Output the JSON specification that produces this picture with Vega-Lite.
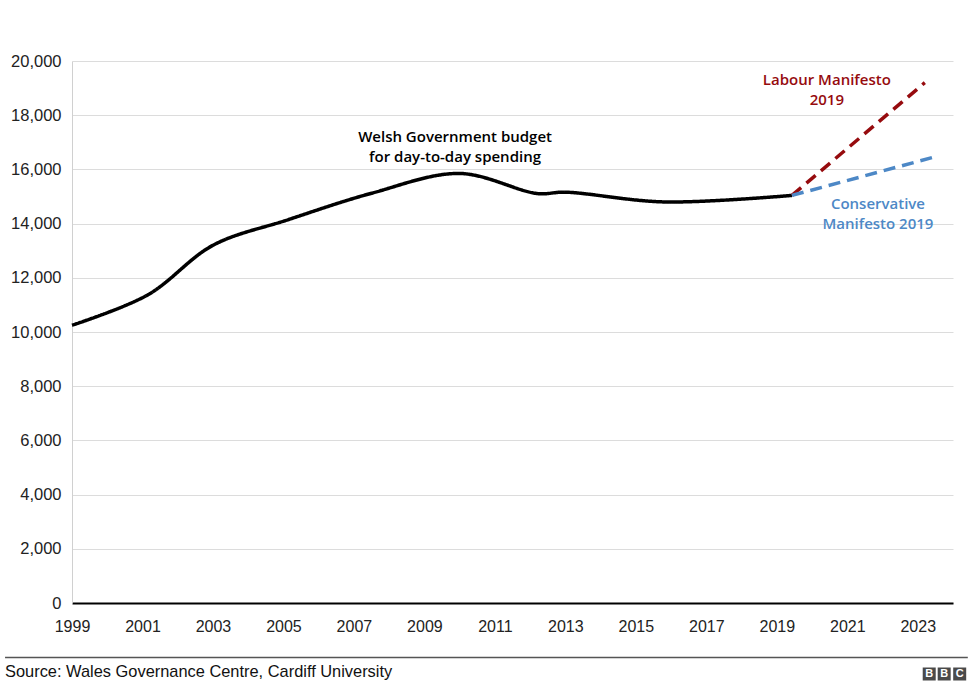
{
  "$schema": "https://vega.github.io/schema/vega-lite/v6.json",
  "width": 881,
  "height": 542,
  "autosize": "none",
  "padding": {"left": 72, "top": 61, "right": 23, "bottom": 97},
  "background": "white",
  "config": {"view": {"stroke": null}},
  "datasets": {
    "lines": [
      {"series": "budget", "year": 1999, "value": 10250},
      {"series": "budget", "year": 2001.15, "value": 11370},
      {"series": "budget", "year": 2003, "value": 13200},
      {"series": "budget", "year": 2005.1, "value": 14130},
      {"series": "budget", "year": 2007.5, "value": 15120},
      {"series": "budget", "year": 2010, "value": 15850},
      {"series": "budget", "year": 2012.2, "value": 15110},
      {"series": "budget", "year": 2013, "value": 15160},
      {"series": "budget", "year": 2015.8, "value": 14800},
      {"series": "budget", "year": 2019.43, "value": 15040},
      {"series": "labour", "year": 2019.43, "value": 15040},
      {"series": "labour", "year": 2023.2, "value": 19200},
      {"series": "conservative", "year": 2019.43, "value": 15040},
      {"series": "conservative", "year": 2023.45, "value": 16450}
    ],
    "labels": [
      {"label": ["Welsh Government budget", "for day-to-day spending"], "year": 2009.87, "value": 17196, "series": "budget"},
      {"label": ["Labour Manifesto", "2019"], "year": 2020.42, "value": 19307, "series": "labour"},
      {"label": ["Conservative", "Manifesto 2019"], "year": 2021.87, "value": 14730, "series": "conservative"}
    ],
    "bbc": [
      {"letter": "B", "pos": 2023.325},
      {"letter": "B", "pos": 2023.75},
      {"letter": "C", "pos": 2024.19}
    ]
  },
  "layer": [
    {
      "data": {"name": "lines"},
      "mark": {"type": "line", "interpolate": "catmull-rom", "strokeWidth": 3.5, "clip": false},
      "encoding": {
        "x": {
          "field": "year", "type": "quantitative",
          "scale": {"domain": [1999, 2024], "nice": false, "zero": false},
          "axis": {
            "values": [1999, 2001, 2003, 2005, 2007, 2009, 2011, 2013, 2015, 2017, 2019, 2021, 2023],
            "format": "d", "title": null, "grid": false, "ticks": false,
            "domainColor": "#000000", "domainWidth": 2,
            "labelFont": "Liberation Sans", "labelFontSize": 16, "labelColor": "#222222",
            "labelPadding": 15, "labelFlush": false
          }
        },
        "y": {
          "field": "value", "type": "quantitative",
          "scale": {"domain": [0, 20000], "nice": false},
          "axis": {
            "values": [0, 2000, 4000, 6000, 8000, 10000, 12000, 14000, 16000, 18000, 20000],
            "format": ",d", "title": null, "ticks": false,
            "gridColor": "#dcdcdc", "gridWidth": 1,
            "domainColor": "#d0d0d0", "domainWidth": 1,
            "labelFont": "Liberation Sans", "labelFontSize": 16.5, "labelColor": "#222222",
            "labelPadding": 11
          }
        },
        "color": {
          "field": "series", "type": "nominal", "legend": null,
          "scale": {"domain": ["budget", "labour", "conservative"], "range": ["#000000", "#960b0e", "#4d88c6"]}
        },
        "strokeDash": {
          "field": "series", "type": "nominal", "legend": null,
          "scale": {"domain": ["budget", "labour", "conservative"], "range": [[1, 0], [12, 7], [12, 7]]}
        }
      }
    },
    {
      "data": {"name": "labels"},
      "mark": {"type": "text", "font": "Open Sans", "fontSize": 15, "fontWeight": 600, "lineHeight": 20, "align": "center", "baseline": "middle", "clip": false},
      "encoding": {
        "x": {"field": "year", "type": "quantitative"},
        "y": {"field": "value", "type": "quantitative"},
        "text": {"field": "label"},
        "color": {"field": "series", "type": "nominal", "legend": null}
      }
    },
    {
      "data": {"values": [{}]},
      "mark": {"type": "rule", "color": "#555555", "strokeWidth": 1.5, "clip": false},
      "encoding": {
        "x": {"datum": 1997.1},
        "x2": {"datum": 2024.42},
        "y": {"datum": -2011}
      }
    },
    {
      "data": {"values": [{"t": "Source: Wales Governance Centre, Cardiff University"}]},
      "mark": {"type": "text", "font": "Liberation Sans", "fontSize": 16.4, "color": "#111111", "align": "left", "baseline": "alphabetic", "clip": false},
      "encoding": {
        "x": {"datum": 1997.1},
        "y": {"datum": -2730},
        "text": {"field": "t"}
      }
    },
    {
      "data": {"name": "bbc"},
      "mark": {"type": "square", "filled": true, "color": "#4a4a4a", "size": 169, "opacity": 1, "clip": false},
      "encoding": {
        "x": {"field": "pos", "type": "quantitative"},
        "y": {"datum": -2620}
      }
    },
    {
      "data": {"name": "bbc"},
      "mark": {"type": "text", "font": "Liberation Sans", "fontSize": 11, "fontWeight": "bold", "color": "#ffffff", "align": "center", "baseline": "middle", "clip": false},
      "encoding": {
        "x": {"field": "pos", "type": "quantitative"},
        "y": {"datum": -2620},
        "text": {"field": "letter"}
      }
    }
  ]
}
